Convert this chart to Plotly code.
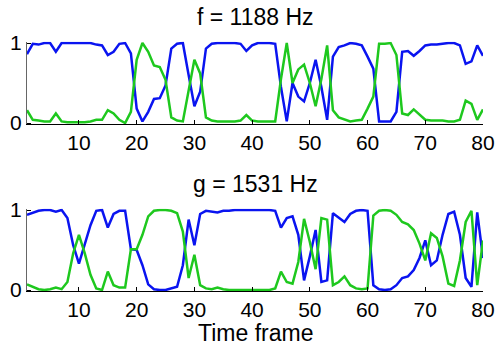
import plotly.graph_objects as go
from plotly.subplots import make_subplots

frames = list(range(1, 81))

f_blue = [0.86, 0.99, 0.98, 1.0, 1.0, 0.89, 1.0, 1.0, 1.0, 1.0,
          1.0, 1.0, 0.98, 0.97, 0.85, 0.89, 0.99, 1.0, 0.87, 0.18,
          0.02, 0.14, 0.30, 0.31, 0.47, 0.93, 0.99, 1.0, 0.60, 0.21,
          0.39, 0.93, 0.99, 1.0, 1.0, 1.0, 1.0, 0.99, 0.90, 0.97,
          1.0, 1.0, 1.0, 0.99, 0.45, 0.02, 0.50, 0.33, 0.27, 0.50,
          0.79, 0.45, 0.04, 0.83, 0.95, 0.97, 1.0, 0.99, 0.97, 0.83,
          0.68, 0.02, 0.02, 0.02, 0.14, 0.89, 0.90, 0.84, 0.90, 0.97,
          0.98, 0.98, 0.99, 1.0, 1.0, 0.97, 0.74, 0.77, 0.97, 0.84]

f_green = [0.16, 0.04, 0.03, 0.02, 0.02, 0.12, 0.02, 0.01, 0.01, 0.01,
           0.01, 0.02, 0.04, 0.04, 0.16, 0.12, 0.04, 0.0, 0.14, 0.79,
           1.0, 0.89, 0.72, 0.70, 0.54, 0.07, 0.03, 0.02, 0.42, 0.79,
           0.62, 0.07, 0.03, 0.02, 0.02, 0.02, 0.02, 0.03, 0.10, 0.03,
           0.02, 0.02, 0.02, 0.02, 0.55, 1.0, 0.50, 0.67, 0.73, 0.50,
           0.21, 0.55, 0.97, 0.16, 0.07, 0.04, 0.02, 0.03, 0.04, 0.18,
           0.33, 0.99, 0.99, 1.0, 0.85, 0.12, 0.10, 0.17, 0.10, 0.04,
           0.03, 0.03, 0.03, 0.02, 0.02, 0.04, 0.28, 0.24, 0.04, 0.17]

g_blue = [0.94, 0.97, 0.99, 1.0, 1.0, 0.98, 1.0, 0.90, 0.56, 0.33,
          0.56, 0.81, 0.99, 1.0, 0.78, 0.95, 0.99, 0.99, 0.51, 0.50,
          0.31, 0.07, 0.01, 0.0, 0.0, 0.02, 0.04, 0.31, 0.88, 0.56,
          0.95, 0.99, 0.98, 0.97, 0.99, 0.99, 1.0, 1.0, 1.0, 1.0,
          1.0, 1.0, 1.0, 0.99, 0.78, 0.90, 0.92, 0.69, 0.12, 0.42,
          0.75, 0.10, 0.12, 0.96, 0.90, 0.85, 0.95, 0.99, 1.0, 0.99,
          0.06, 0.01, 0.0, 0.01, 0.06, 0.15, 0.17, 0.25, 0.40, 0.62,
          0.31, 0.37, 0.69, 0.95, 0.98, 0.69, 0.15, 0.04, 0.97, 0.40]

g_green = [0.07, 0.04, 0.01, 0.0, 0.01, 0.03, 0.01, 0.10, 0.46, 0.69,
           0.46, 0.19, 0.02, 0.0, 0.23, 0.06, 0.03, 0.03, 0.51, 0.51,
           0.69, 0.92, 0.99, 1.0, 1.0, 0.99, 0.96, 0.73, 0.15, 0.44,
           0.06, 0.02, 0.01, 0.03, 0.01, 0.0, 0.0, 0.0, 0.0, 0.0,
           0.0, 0.0, 0.0, 0.02, 0.23, 0.10, 0.08, 0.35, 0.89, 0.60,
           0.26, 0.90, 0.88, 0.06, 0.10, 0.17, 0.06, 0.02, 0.01, 0.02,
           0.93, 0.99, 1.0, 0.99, 0.94, 0.85, 0.82, 0.75, 0.58, 0.37,
           0.71, 0.65, 0.42, 0.08, 0.05, 0.37, 0.85, 0.99, 0.06, 0.62]

titles = ["f = 1188 Hz", "g = 1531 Hz"]
x_ticks = [10, 20, 30, 40, 50, 60, 70, 80]
y_ticks = [0, 1]
x_label = "Time frame"

BLUE = "#0a14f0"
GREEN = "#1ec81e"
FONT = "Liberation Sans, Arial, sans-serif"
TICK_SIZE = 21
TITLE_SIZE = 23

W, H = 496, 347
T, B = 36, 294  # plot area top/bottom in px
PAD = 0.016


def dom(py1, py0):
    top = py1 - 80 * PAD
    bot = py0 + 80 * PAD
    return [(B - bot) / (B - T), (B - top) / (B - T)]


fig = make_subplots(rows=2, cols=1, shared_xaxes=False)

for row, (b, g) in enumerate([(f_blue, f_green), (g_blue, g_green)], start=1):
    fig.add_trace(go.Scatter(x=frames, y=b, mode="lines",
                             line=dict(color=BLUE, width=2.5), showlegend=False),
                  row=row, col=1)
    fig.add_trace(go.Scatter(x=frames, y=g, mode="lines",
                             line=dict(color=GREEN, width=2.5), showlegend=False),
                  row=row, col=1)

axis_common_x = dict(range=[1, 80], tickvals=x_ticks, ticks="inside", ticklen=4,
                     tickcolor="black", showline=True, linecolor="black", linewidth=1,
                     showgrid=False, zeroline=False, mirror=False, automargin=False,
                     tickfont=dict(family=FONT, size=TICK_SIZE, color="black"),
                     ticklabelstandoff=0)
axis_common_y = dict(range=[-PAD, 1 + PAD], tickvals=y_ticks, ticks="inside", ticklen=4,
                     tickcolor="black", showline=True, linecolor="#666666", linewidth=1,
                     showgrid=False, zeroline=False, automargin=False,
                     tickfont=dict(family=FONT, size=TICK_SIZE, color="black"),
                     ticklabelstandoff=0)

fig.update_xaxes(**axis_common_x)
fig.update_yaxes(**axis_common_y)
fig.update_yaxes(domain=dom(43, 123), row=1, col=1)
fig.update_yaxes(domain=dom(210, 290), row=2, col=1)

for text, py in [(titles[0], 17), (titles[1], 184), (x_label, 333)]:
    fig.add_annotation(text=text, x=0.5, xref="paper",
                       y=(B - py) / (B - T),
                       yref="paper", yanchor="middle", showarrow=False,
                       font=dict(family=FONT, size=TITLE_SIZE, color="black"))

fig.update_layout(width=W, height=H,
                  margin=dict(l=27, r=W - 483, t=T, b=H - B, autoexpand=False),
                  paper_bgcolor="white", plot_bgcolor="white",
                  font=dict(family=FONT, size=TICK_SIZE, color="black"))

fig.write_html("out.html",
               config={"displayModeBar": False},
               post_script="document.body.style.margin='0px';"
                           "document.body.style.overflow='hidden';")
